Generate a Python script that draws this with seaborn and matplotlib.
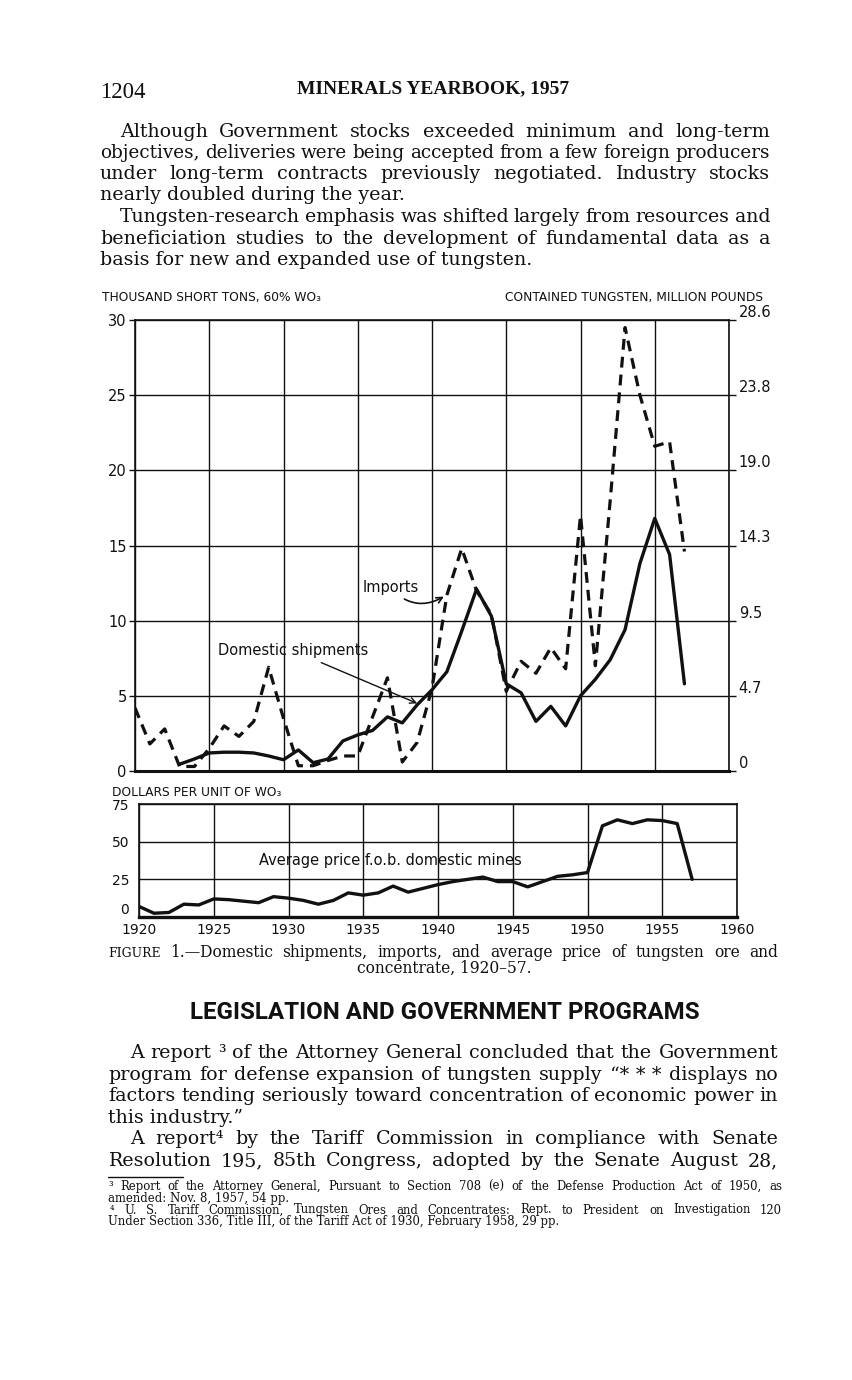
import matplotlib
matplotlib.use("Agg")
import matplotlib.pyplot as plt
import seaborn as sns
import pandas as pd

# ---------------- data ----------------
years = list(range(1920, 1958))
imports = [4.2, 1.8, 2.8, 0.3, 0.3, 1.5, 3.0, 2.3, 3.3, 6.9,
           3.5, 0.35, 0.35, 0.7, 1.0, 1.0, 3.6, 6.2, 0.6, 1.9,
           5.5, 11.7, 14.8, 12.0, 10.4, 5.3, 7.3, 6.5, 8.2, 6.8,
           17.0, 7.0, 18.0, 29.5, 25.0, 21.6, 21.9, 14.6]
domestic_years = list(range(1923, 1958))
domestic = [0.45, 0.8, 1.2, 1.25, 1.25, 1.2, 1.0, 0.75, 1.4, 0.55,
            0.8, 2.0, 2.4, 2.7, 3.6, 3.2, 4.4, 5.4, 6.6, 9.3,
            12.1, 10.3, 5.8, 5.2, 3.3, 4.3, 3.0, 5.0, 6.1, 7.4,
            9.4, 13.8, 16.8, 14.4, 5.8]
price = [7, 2.5, 3, 8.5, 8, 12, 11.5, 10.5, 9.5, 13.5,
         12.5, 11, 8.5, 11, 16, 14.5, 16, 20.5, 16.5, 19,
         21.5, 23.5, 25, 26.5, 23.5, 23.5, 20, 23.5, 27, 28,
         29.5, 60.5, 64.5, 62, 64.5, 64, 62, 25]

ton_ticks = [0, 5, 10, 15, 20, 25, 30]
ton_labels = ['0', '5', '10', '15', '20', '25', '30']
pound_labels = ['0', '4.7', '9.5', '14.3', '19.0', '23.8', '28.6']
price_ticks = [0, 25, 50, 75]
price_labels = ['0', '25', '50', '75']
year_ticks = list(range(1920, 1961, 5))
year_labels = [str(y) for y in year_ticks]

# ---------------- setup ----------------
sns.set_theme(style="white")
plt.rcParams['font.family'] = ['DejaVu Sans']
W, H = 853, 1380
fig = plt.figure(figsize=(W / 100, H / 100), dpi=100)
fig.patch.set_facecolor('white')
renderer = fig.canvas.get_renderer()
SERIF = ['DejaVu Serif']
NARROW = ['Liberation Serif', 'DejaVu Serif']
INK = '#111111'


def fx(x):
    return x / W


def fy(y):
    return 1 - y / H


def text_width(s, **kw):
    t = fig.text(0, 0, s, **kw)
    w = t.get_window_extent(renderer).width
    t.remove()
    return w


def put_line(s, x0, x1, y, justify=True, word_kw=None, min_gap=0.27, **kw):
    words = s.split()
    word_kw = word_kw or {}
    if not justify or len(words) == 1:
        fig.text(fx(x0), fy(y), s, va='baseline', ha='left', color=INK, **kw)
        return
    scale = 1.0
    for _ in range(4):
        kws = []
        for i in range(len(words)):
            k = dict(kw)
            k.update(word_kw.get(i, {}))
            k['fontsize'] = k['fontsize'] * scale
            kws.append(k)
        widths = [text_width(w, **k) for w, k in zip(words, kws)]
        gap = (x1 - x0 - sum(widths)) / (len(words) - 1)
        mg = min_gap * kw['fontsize'] * scale * 100 / 72
        if gap >= mg:
            break
        scale *= (x1 - x0 - mg * (len(words) - 1)) / sum(widths)
    x = x0
    for w, wd, k in zip(words, widths, kws):
        fig.text(fx(x), fy(y), w, va='baseline', ha='left', color=INK, **k)
        x += wd + gap


def fit_size(s, target, base, **kw):
    w = text_width(s, fontsize=base, **kw)
    return base * target / w


# ---------------- page header & text ----------------
fig.text(fx(100), fy(98), '1204', fontsize=16.5, family=NARROW, color=INK,
         va='baseline', ha='left')
hdr = 'MINERALS YEARBOOK, 1957'
hs = fit_size(hdr, 271, 11, family=NARROW, fontweight='bold')
fig.text(fx(297), fy(93), hdr, fontsize=hs, family=NARROW, fontweight='bold',
         color=INK, va='baseline', ha='left')

bsz = fit_size("nearly doubled during the year.", 303, 12, family=SERIF)
BODY = dict(fontsize=bsz, family=SERIF)
p1 = [("Although Government stocks exceeded minimum and long-term", 120, 137, True),
      ("objectives, deliveries were being accepted from a few foreign producers", 100, 158, True),
      ("under long-term contracts previously negotiated.  Industry stocks", 100, 179, True),
      ("nearly doubled during the year.", 100, 200, False),
      ("Tungsten-research emphasis was shifted largely from resources and", 120, 222, True),
      ("beneficiation studies to the development of fundamental data as a", 100, 244, True),
      ("basis for new and expanded use of tungsten.", 100, 265, False)]
for s, x0, y, j in p1:
    put_line(s, x0, 770, y, justify=j, **BODY)

# caption
csz = fit_size("concentrate, 1920–57.", 176, 12, family=SERIF)
CAP = dict(fontsize=csz, family=SERIF)
put_line("FIGURE 1.—Domestic shipments, imports, and average price of tungsten ore and",
         108, 778, 957, justify=True, word_kw={0: dict(fontsize=csz * 0.8)}, **CAP)
fig.text(fx(444), fy(973), "concentrate, 1920–57.", ha='center', va='baseline',
         color=INK, **CAP)

head = "LEGISLATION AND GOVERNMENT PROGRAMS"
HEADF = ['Roboto', 'DejaVu Sans']
hsz = fit_size(head, 510, 16, fontweight='bold', family=HEADF)
fig.text(fx(445), fy(1019), head, fontsize=hsz, fontweight='bold', ha='center',
         va='baseline', color=INK, family=HEADF)

p3 = [("A report ³ of the Attorney General concluded that the Government", 130, 1058, True),
      ("program for defense expansion of tungsten supply “* * * displays no", 108, 1080, True),
      ("factors tending seriously toward concentration of economic power in", 108, 1101, True),
      ("this industry.”", 108, 1123, False),
      ("A report⁴ by the Tariff Commission in compliance with Senate", 130, 1144, True),
      ("Resolution 195, 85th Congress, adopted by the Senate August 28,", 108, 1166, True)]
for s, x0, y, j in p3:
    put_line(s, x0, 778, y, justify=j, **BODY)

fig.add_artist(plt.Line2D([fx(108), fx(183)], [fy(1177), fy(1177)], color=INK, lw=1.0))
FN = dict(fontsize=8.4, family=SERIF)
fns = [("³ Report of the Attorney General, Pursuant to Section 708 (e) of the Defense Production Act of 1950, as", 108, 1190, True),
       ("amended: Nov. 8, 1957, 54 pp.", 108, 1202, False),
       ("⁴ U. S. Tariff Commission, Tungsten Ores and Concentrates: Rept. to President on Investigation 120", 110, 1213.5, True),
       ("Under Section 336, Title III, of the Tariff Act of 1930, February 1958, 29 pp.", 108, 1225.5, False)]
for s, x0, y, j in fns:
    put_line(s, x0, 782, y, justify=j, min_gap=0.2, **FN)

# ---------------- top chart ----------------
ax = fig.add_axes([fx(135), fy(771), (729 - 135) / W, (771 - 320) / H])
ax.set_facecolor('white')
df_imp = pd.DataFrame({'year': years, 'value': imports})
df_dom = pd.DataFrame({'year': domestic_years, 'value': domestic})
sns.lineplot(data=df_imp, x='year', y='value', ax=ax, color=INK, lw=2.3)
ax.lines[-1].set_dashes([3.4, 2.2])
sns.lineplot(data=df_dom, x='year', y='value', ax=ax, color=INK, lw=2.4)
ax.set_xlim(1920, 1960)
ax.set_ylim(0, 30)
ax.set_xticks(year_ticks)
ax.set_xticklabels([])
ax.set_xticks(years, minor=True)
ax.set_yticks(ton_ticks)
ax.set_yticklabels(ton_labels, fontsize=10.5)
ax.grid(True, which='major', color=INK, lw=1.0)
ax.set_axisbelow(True)
ax.tick_params(axis='x', which='major', length=0)
ax.tick_params(axis='x', which='minor', length=3, direction='in', color=INK, width=0.8)
ax.tick_params(axis='y', which='major', length=4, color=INK, width=1.0, pad=2,
               labelcolor=INK)
ax.set_xlabel('')
ax.set_ylabel('')
for sp in ax.spines.values():
    sp.set_color(INK)
    sp.set_linewidth(1.2)
ax.spines['bottom'].set_linewidth(2.2)

ax2 = ax.twinx()
ax2.set_ylim(0, 30)
ax2.set_yticks(ton_ticks)
ax2.set_yticklabels(pound_labels, fontsize=10.5)
ax2.grid(False)
ax2.tick_params(axis='y', length=5, color=INK, width=1.0, pad=2, labelcolor=INK)
for lab in ax2.get_yticklabels():
    lab.set_va('bottom')
for sp in ax2.spines.values():
    sp.set_visible(False)

ax.annotate('Domestic shipments', xy=(1939.0, 4.5), xytext=(1925.6, 8.0),
            fontsize=10.5, color=INK, va='center', ha='left',
            arrowprops=dict(arrowstyle='->', color=INK, lw=1.0,
                            shrinkA=2, shrinkB=0))
ax.annotate('Imports', xy=(1940.8, 11.6), xytext=(1935.3, 12.2),
            fontsize=10.5, color=INK, va='center', ha='left',
            arrowprops=dict(arrowstyle='->', color=INK, lw=1.2,
                            connectionstyle='arc3,rad=0.4', shrinkA=1, shrinkB=0))

fig.text(fx(102), fy(297), 'THOUSAND SHORT TONS, 60% WO₃', fontsize=8.8,
         color=INK, va='center', ha='left')
fig.text(fx(763), fy(297), 'CONTAINED TUNGSTEN, MILLION POUNDS', fontsize=8.8,
         color=INK, va='center', ha='right')

# ---------------- bottom chart ----------------
ax3 = fig.add_axes([fx(139), fy(917), (737 - 139) / W, (917 - 804) / H])
ax3.set_facecolor('white')
df_pr = pd.DataFrame({'year': years, 'price': price})
sns.lineplot(data=df_pr, x='year', y='price', ax=ax3, color=INK, lw=2.4)
ax3.set_xlim(1920, 1960)
ax3.set_ylim(0, 75)
ax3.set_xticks(year_ticks)
ax3.set_xticklabels(year_labels, fontsize=10)
ax3.set_yticks(price_ticks)
ax3.set_yticklabels(price_labels, fontsize=10)
ax3.grid(True, color=INK, lw=1.0)
ax3.set_axisbelow(True)
ax3.tick_params(axis='x', length=0, pad=4, labelcolor=INK)
ax3.tick_params(axis='y', length=0, pad=7, labelcolor=INK)
ax3.get_yticklabels()[0].set_va('bottom')
ax3.set_xlabel('')
ax3.set_ylabel('')
for sp in ax3.spines.values():
    sp.set_color(INK)
    sp.set_linewidth(1.2)
ax3.spines['bottom'].set_linewidth(2.4)
ax3.text(1928.0, 37.5, 'Average price f.o.b. domestic mines', fontsize=10.5,
         color=INK, va='center', ha='left')
fig.text(fx(112), fy(792), 'DOLLARS PER UNIT OF WO₃', fontsize=8.8, color=INK,
         va='center', ha='left')

fig.savefig('out.png', dpi=100, facecolor='white')
